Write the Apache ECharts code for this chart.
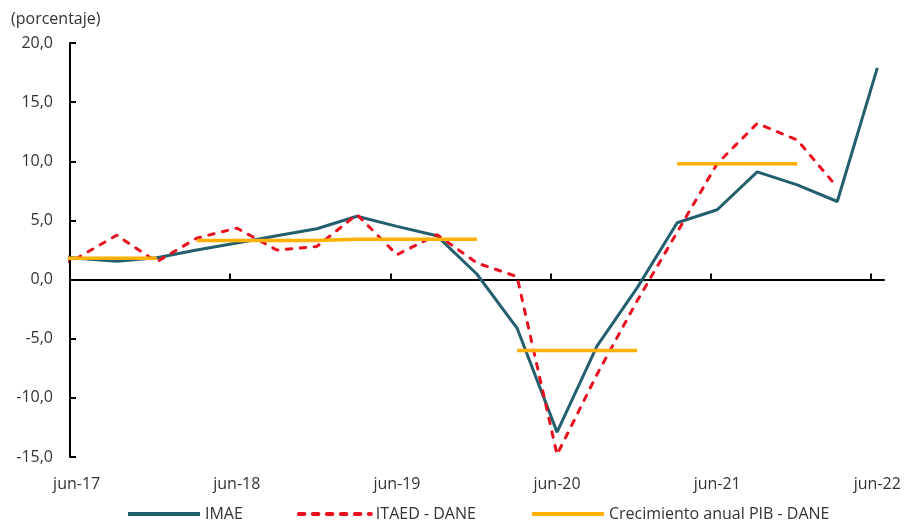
<!DOCTYPE html>
<html>
<head>
<meta charset="utf-8">
<script src="https://cdn.jsdelivr.net/npm/echarts@6/dist/echarts.min.js"></script>
<style>
  html, body { margin: 0; padding: 0; background: #fff; }
  #chart { width: 907px; height: 521px; }
</style>
</head>
<body>
<div id="chart"></div>
<script>
// trimestres (mar-17 queda fuera del eje, se recorta en el borde)
const quarters = ['2017-03', '2017-06', '2017-09', '2017-12', '2018-03', '2018-06', '2018-09', '2018-12',
  '2019-03', '2019-06', '2019-09', '2019-12', '2020-03', '2020-06', '2020-09', '2020-12',
  '2021-03', '2021-06', '2021-09', '2021-12', '2022-03', '2022-06'];
const imae = [2.3, 1.8, 1.55, 1.85, 2.5, 3.1, 3.7, 4.3, 5.35, 4.5, 3.7, 0.45,
  -4.1, -12.9, -5.6, -0.7, 4.8, 5.9, 9.1, 8.0, 6.6, 17.9];
const itaed = [0.5, 1.8, 3.75, 1.5, 3.5, 4.35, 2.5, 2.8, 5.5, 2.1, 3.8, 1.4,
  0.25, -14.8, -8.0, -1.8, 4.0, 9.8, 13.2, 11.8, 7.8, null];
// crecimiento anual PIB - DANE, un tramo por año (2018 y 2019 unidos)
const pibYears = ['2017', '2018', '2019', '2020', '2021'];
const pibValues = [1.8, 3.3, 3.4, -6.0, 9.8];
const pibGroups = [['2017'], ['2018', '2019'], ['2020'], ['2021']];
const tickLabels = ['jun-17', 'jun-18', 'jun-19', 'jun-20', 'jun-21', 'jun-22'];

const TXT = '#333333';
const FONT = 'Open Sans';

// mes -> posicion en el eje (centro de la categoria mensual, jun-17 = 0)
function monthPos(ym) {
  const [y, m] = ym.split('-').map(Number);
  return (y - 2017) * 12 + (m - 6) + 0.5;
}

const imaeData = quarters.map((q, i) => [monthPos(q), imae[i]]);
const itaedData = quarters.map((q, i) => [monthPos(q), itaed[i] == null ? '-' : itaed[i]]);

let pibData = [];
pibGroups.forEach((grp, g) => {
  if (g > 0) pibData.push(['-', '-']);
  grp.forEach(yr => {
    const v = pibValues[pibYears.indexOf(yr)];
    pibData.push([monthPos(yr + '-03'), v]);
    pibData.push([monthPos(yr + '-12'), v]);
  });
});

const chart = echarts.init(document.getElementById('chart'));

let option = {
  animation: false,
  textStyle: { fontFamily: FONT },
  title: {
    text: '(porcentaje)',
    left: 6,
    top: 6,
    textStyle: { fontSize: 16, fontWeight: 'normal', color: TXT, fontFamily: FONT }
  },
  legend: {
    data: ['IMAE', 'ITAED - DANE', 'Crecimiento anual PIB - DANE'],
    left: 121,
    top: 501,
    itemWidth: 72,
    itemHeight: 14,
    itemGap: 54,
    itemStyle: { opacity: 0 }, // sin circulo, solo la linea
    lineStyle: { width: 4 },
    textStyle: { fontSize: 16, color: TXT, fontFamily: FONT }
  },
  grid: {
    left: 70,
    right: 23,
    top: 43,
    bottom: 64
  },
  xAxis: [
    {
      // linea en cero con marcas
      type: 'value',
      min: 0,
      max: 61,
      axisLine: { show: true, onZero: true, lineStyle: { color: '#000', width: 2 } },
      axisTick: { show: true, inside: true, length: 6, customValues: [12, 24, 36, 48, 60], lineStyle: { color: '#000', width: 2 } },
      axisLabel: { show: false },
      splitLine: { show: false }
    },
    {
      // etiquetas abajo
      type: 'value',
      min: 0,
      max: 61,
      position: 'bottom',
      axisLine: { show: false, onZero: false },
      axisTick: { show: false },
      splitLine: { show: false },
      axisLabel: {
        customValues: [0.5, 12.5, 24.5, 36.5, 48.5, 60.5],
        formatter: (v) => tickLabels[Math.round((v - 0.5) / 12)],
        margin: 19,
        fontSize: 16,
        color: TXT,
        fontFamily: FONT
      }
    }
  ],
  yAxis: {
    type: 'value',
    min: -15,
    max: 20,
    interval: 5,
    axisLine: { show: true, onZero: false, lineStyle: { color: '#000', width: 2 } },
    axisTick: { show: true, inside: true, length: 6, lineStyle: { color: '#000', width: 2 } },
    axisLabel: {
      formatter: (v) => v.toFixed(1).replace('.', ','),
      margin: 17,
      fontSize: 16,
      color: TXT,
      fontFamily: FONT
    },
    splitLine: { show: false }
  },
  series: [
    {
      name: 'IMAE',
      type: 'line',
      xAxisIndex: 0,
      data: imaeData,
      symbol: 'none',
      z: 3,
      color: '#245F6E',
      lineStyle: { color: '#245F6E', width: 3 }
    },
    {
      name: 'ITAED - DANE',
      type: 'line',
      xAxisIndex: 0,
      data: itaedData,
      symbol: 'none',
      z: 4,
      color: '#E8101E',
      lineStyle: { color: '#E8101E', width: 3, type: [5.5, 8.5], cap: 'round' }
    },
    {
      name: 'Crecimiento anual PIB - DANE',
      type: 'line',
      xAxisIndex: 0,
      data: pibData,
      symbol: 'none',
      connectNulls: false,
      z: 5,
      color: '#FFB000',
      lineStyle: { color: '#FFB000', width: 3.5 }
    }
  ]
};

chart.setOption(option);
</script>
</body>
</html>
